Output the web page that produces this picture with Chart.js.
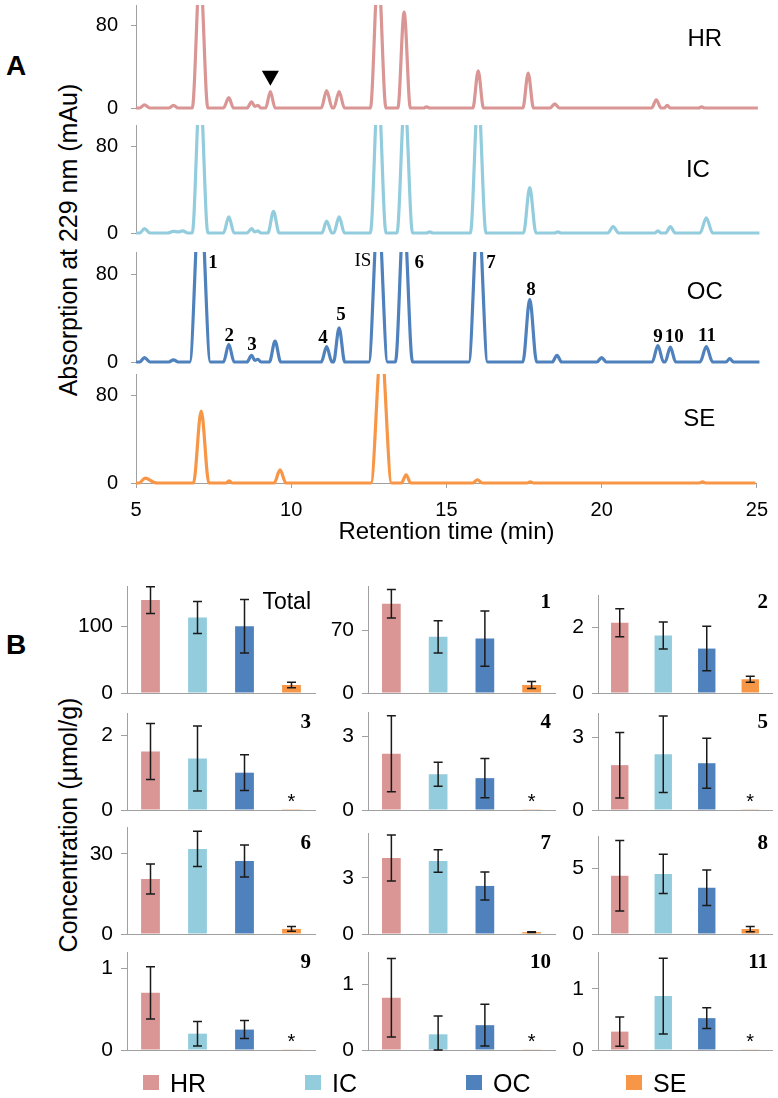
<!DOCTYPE html>
<html>
<head>
<meta charset="utf-8">
<script src="https://cdn.jsdelivr.net/npm/chart.js@4.4.1/dist/chart.umd.min.js"></script>
<style>
  body { margin: 0; background: #fff; width: 778px; height: 1098px; position: relative; overflow: hidden;
         font-family: "Liberation Sans", Arial, sans-serif; color: #000; }
  canvas { position: absolute; }
  .vtitle { position: absolute; white-space: nowrap; font-size: 25px; transform: translate(-50%, -50%) rotate(-90deg); }
  .panel { position: absolute; font-weight: bold; font-size: 28px; transform: translate(-50%, -50%); }
  .key { position: absolute; width: 16px; height: 15px; }
  .keytxt { position: absolute; font-size: 25px; transform: translateY(-50%); }
</style>
</head>
<body>
<div class="panel" style="left:16px;top:66px">A</div>
<div class="panel" style="left:16px;top:645px">B</div>
<div class="vtitle" style="left:68px;top:240px">Absorption at 229 nm (mAu)</div>
<div class="vtitle" style="left:68px;top:825px">Concentration (µmol/g)</div>

<script>
// ---------- panel A: chromatograms, [retention time (min), absorbance (mAu)] ----------
const retentionTicks = [5, 10, 15, 20, 25];
const absorbTicks = [0, 80];

const traceHR = [
  [5.0, 0], [5.12, 0], [5.27, 3], [5.45, 0], [6.05, 0], [6.2, 2.5], [6.35, 0],
  [6.8, 0], [7.05, 135], [7.3, 0], [7.8, 0], [7.97, 10], [8.12, 0],
  [8.55, 0], [8.7, 6], [8.8, 1.5], [8.9, 2.5], [9.0, 0], [9.15, 0], [9.3, 16], [9.45, 0],
  [10.93, 0], [11.1, 17], [11.28, 0], [11.33, 0], [11.5, 16], [11.67, 0],
  [12.5, 0], [12.75, 135], [13.0, 0], [13.38, 0], [13.58, 93], [13.78, 0],
  [14.2, 0], [14.3, 1], [14.4, 0], [15.78, 0], [15.95, 36], [16.12, 0],
  [17.38, 0], [17.55, 34], [17.72, 0], [18.25, 0], [18.4, 4], [18.55, 0],
  [21.5, 0], [21.65, 8], [21.8, 0], [21.9, 0], [22.0, 2.5], [22.1, 0],
  [23.0, 0], [23.1, 1], [23.2, 0], [24.9, 0]
];
const traceIC = [
  [5.0, 0], [5.12, 0], [5.27, 4], [5.45, 0], [6.0, 0], [6.2, 1.5], [6.35, 1], [6.5, 2], [6.65, 0],
  [6.8, 0], [7.05, 135], [7.3, 0], [7.8, 0], [7.97, 15], [8.14, 0],
  [8.55, 0], [8.7, 4], [8.8, 1], [8.9, 2], [9.0, 0], [9.22, 0], [9.4, 20], [9.58, 0],
  [10.95, 0], [11.1, 11], [11.27, 0], [11.33, 0], [11.5, 15], [11.67, 0],
  [12.5, 0], [12.75, 135], [13.0, 0], [13.35, 0], [13.6, 125], [13.85, 0],
  [14.3, 0], [14.4, 1], [14.5, 0], [15.7, 0], [15.95, 128], [16.2, 0],
  [17.4, 0], [17.6, 42], [17.8, 0], [18.4, 0], [18.5, 1], [18.6, 0],
  [20.1, 0], [20.27, 6], [20.44, 0], [21.6, 0], [21.7, 2], [21.8, 0], [21.95, 0], [22.1, 6], [22.25, 0],
  [23.05, 0], [23.25, 14], [23.45, 0], [24.95, 0]
];
const traceOC = [
  [5.0, 0], [5.12, 0], [5.27, 4], [5.45, 0], [6.05, 0], [6.2, 2], [6.35, 0],
  [6.72, 0], [7.05, 160], [7.38, 0], [7.8, 0], [7.97, 16], [8.14, 0],
  [8.55, 0], [8.7, 6], [8.8, 1.5], [8.9, 2.5], [9.0, 0], [9.27, 0], [9.45, 19], [9.63, 0],
  [10.93, 0], [11.1, 14], [11.27, 0], [11.32, 0], [11.5, 31], [11.68, 0],
  [12.45, 0], [12.75, 140], [13.05, 0], [13.3, 0], [13.57, 135], [13.85, 0],
  [15.65, 0], [15.95, 140], [16.25, 0], [17.38, 0], [17.6, 57], [17.82, 0],
  [18.32, 0], [18.47, 6], [18.62, 0], [19.75, 0], [19.9, 4], [20.05, 0],
  [21.52, 0], [21.7, 15], [21.88, 0], [21.93, 0], [22.1, 13.5], [22.27, 0],
  [23.05, 0], [23.25, 14], [23.45, 0], [23.88, 0], [24.0, 3], [24.12, 0], [24.95, 0]
];
const traceSE = [
  [5.0, 0], [5.1, 0], [5.3, 4.5], [5.55, 1], [5.7, 0],
  [6.85, 0], [7.1, 66], [7.35, 0], [7.9, 0], [8.0, 2], [8.1, 0],
  [9.45, 0], [9.64, 12], [9.83, 0], [12.57, 0], [12.9, 125], [13.23, 0],
  [13.55, 0], [13.7, 7.5], [13.85, 0], [15.85, 0], [16.0, 3], [16.15, 0],
  [17.6, 0], [17.7, 1], [17.8, 0], [23.15, 0], [23.25, 1], [23.35, 0], [24.95, 0]
];

const peakNames = ['1', '2', '3', '4', '5', 'IS', '6', '7', '8', '9', '10', '11'];
const peakTimes = [7.46, 7.98, 8.71, 10.98, 11.56, 12.26, 14.06, 16.36, 17.64, 21.7, 22.22, 23.27];
const peakLevels = [90, 23.6, 15.5, 21.8, 42.7, 92, 90, 90, 65, 22.7, 22.7, 23.6];

// ---------- panel B: concentrations (µmol/g), mean and error ----------
const groups = ['HR', 'IC', 'OC', 'SE'];
const compounds = ['Total', '1', '2', '3', '4', '5', '6', '7', '8', '9', '10', '11'];
const meanHR = [139, 100, 2.15, 1.57, 2.3, 1.85, 20.6, 4.06, 4.46, 0.7, 0.8, 0.3];
const errHR  = [20, 16, 0.43, 0.75, 1.55, 1.35, 5.6, 1.23, 2.7, 0.32, 0.6, 0.24];
const meanIC = [113, 63, 1.76, 1.38, 1.46, 2.3, 31.8, 3.9, 4.6, 0.2, 0.24, 0.88];
const errIC  = [24, 18, 0.41, 0.87, 0.49, 1.58, 6.6, 0.6, 1.5, 0.15, 0.28, 0.62];
const meanOC = [100, 61, 1.36, 1.0, 1.3, 1.93, 27.3, 2.57, 3.54, 0.25, 0.38, 0.52];
const errOC  = [40, 31, 0.68, 0.48, 0.8, 1.03, 6, 0.75, 1.35, 0.11, 0.32, 0.17];
const meanSE = [12, 9, 0.42, 0.005, 0.01, 0.01, 1.9, 0.1, 0.38, 0.004, 0.005, 0.005];
const errSE  = [4, 4, 0.09, 0, 0, 0, 0.9, 0.02, 0.2, 0, 0, 0];
const seMark = ['', '', '', '*', '*', '*', '', '', '', '*', '*', '*'];
const concMax = [160, 120, 3, 2.6, 4, 4, 40, 5.4, 7.5, 1.2, 1.5, 1.6];
const concTicks = [[0, 100], [0, 70], [0, 2], [0, 2], [0, 3], [0, 3], [0, 30], [0, 3], [0, 5], [0, 1], [0, 1], [0, 1]];

const colors = { HR: '#d99694', IC: '#93cddd', OC: '#4f81bd', SE: '#f79646' };
const axisGrey = '#a0a0a0';

Chart.defaults.font.family = '"Liberation Sans", Arial, sans-serif';
Chart.defaults.color = '#000';

function addCanvas(left, top, w, h) {
  const c = document.createElement('canvas');
  c.width = w; c.height = h;
  c.style.left = left + 'px'; c.style.top = top + 'px';
  c.style.width = w + 'px'; c.style.height = h + 'px';
  document.body.appendChild(c);
  return c;
}

// notes drawn in data coordinates: series name, peak numbers, arrowhead
const chromNotes = {
  id: 'chromNotes',
  afterDraw(chart, args, opts) {
    const { ctx, scales: { x, y } } = chart;
    ctx.save();
    ctx.textAlign = 'center';
    ctx.textBaseline = 'middle';
    ctx.fillStyle = '#000';
    ctx.font = '24px "Liberation Sans", Arial, sans-serif';
    ctx.fillText(opts.name, x.getPixelForValue(opts.nameAt[0]), y.getPixelForValue(opts.nameAt[1]));
    if (opts.peaks) {
      peakNames.forEach((p, k) => {
        ctx.font = (p === 'IS' ? '' : 'bold ') + '19px "Liberation Serif", "Times New Roman", serif';
        ctx.fillText(p, x.getPixelForValue(peakTimes[k]), y.getPixelForValue(peakLevels[k]));
      });
    }
    if (opts.arrow) {
      const ax = x.getPixelForValue(opts.arrow[0]), ay = y.getPixelForValue(opts.arrow[1]);
      ctx.beginPath();
      ctx.moveTo(ax - 8.5, ay - 7.5);
      ctx.lineTo(ax + 8.5, ay - 7.5);
      ctx.lineTo(ax, ay + 7.5);
      ctx.closePath();
      ctx.fill();
    }
    ctx.restore();
  }
};

function chromatogram(trace, color, area, notes, showX) {
  const pad = 32, xH = 64;
  const h = area[1] - area[0] + pad + (showX ? xH : pad);
  const canvas = addCanvas(0, area[0] - pad, 778, h);
  new Chart(canvas, {
    type: 'line',
    data: {
      datasets: [{
        data: trace.map(p => ({ x: p[0], y: p[1] })),
        borderColor: color,
        borderWidth: 3.2,
        pointRadius: 0,
        cubicInterpolationMode: 'monotone',
        clip: { left: 0, right: 0, top: 0, bottom: 6 }
      }]
    },
    options: {
      responsive: false,
      animation: false,
      events: [],
      layout: { padding: { left: 0, right: 17, top: pad, bottom: showX ? 0 : pad } },
      plugins: { legend: { display: false }, tooltip: { enabled: false }, chromNotes: notes },
      scales: {
        x: {
          type: 'linear', min: 5, max: 25,
          display: showX,
          afterFit: s => { s.height = showX ? xH : 0; },
          afterBuildTicks: s => { s.ticks = retentionTicks.map(v => ({ value: v })); },
          ticks: { font: { size: 20 }, padding: 10, maxRotation: 0 },
          grid: { drawOnChartArea: false, tickLength: 5, color: axisGrey },
          border: { color: axisGrey },
          title: { display: true, text: 'Retention time (min)', font: { size: 24 }, padding: 0 }
        },
        y: {
          min: 0, max: 100,
          afterFit: s => { s.width = 136; },
          afterBuildTicks: s => { s.ticks = absorbTicks.map(v => ({ value: v })); },
          ticks: { font: { size: 20 }, padding: 13 },
          grid: { drawOnChartArea: false, tickLength: 5, color: axisGrey },
          border: { color: axisGrey }
        }
      }
    },
    plugins: [chromNotes]
  });
}

chromatogram(traceHR, colors.HR, [5, 108], { name: 'HR', nameAt: [23.2, 67], arrow: [9.3, 29] }, false);
chromatogram(traceIC, colors.IC, [125, 233], { name: 'IC', nameAt: [22.98, 58] }, false);
chromatogram(traceOC, colors.OC, [252, 362], { name: 'OC', nameAt: [23.2, 63], peaks: true }, false);
chromatogram(traceSE, colors.SE, [374, 483], { name: 'SE', nameAt: [23.14, 58] }, true);

// ---------- panel B ----------
const errorBars = {
  id: 'errorBars',
  afterDatasetsDraw(chart, args, opts) {
    const { ctx, scales: { y } } = chart;
    const meta = chart.getDatasetMeta(0);
    const values = chart.data.datasets[0].data;
    ctx.save();
    ctx.strokeStyle = '#1a1a1a';
    ctx.lineWidth = 1.5;
    meta.data.forEach((bar, k) => {
      const e = opts.errors[k];
      if (!e) return;
      const top = y.getPixelForValue(values[k] + e);
      const bot = y.getPixelForValue(Math.max(values[k] - e, 0));
      ctx.beginPath();
      ctx.moveTo(bar.x, top); ctx.lineTo(bar.x, bot);
      ctx.moveTo(bar.x - 4.5, top); ctx.lineTo(bar.x + 4.5, top);
      ctx.moveTo(bar.x - 4.5, bot); ctx.lineTo(bar.x + 4.5, bot);
      ctx.stroke();
    });
    ctx.restore();
  }
};

const panelNotes = {
  id: 'panelNotes',
  afterDraw(chart, args, opts) {
    const { ctx, chartArea } = chart;
    ctx.save();
    ctx.fillStyle = '#000';
    ctx.textBaseline = 'middle';
    ctx.textAlign = 'right';
    ctx.font = opts.title === 'Total'
      ? '23px "Liberation Sans", Arial, sans-serif'
      : 'bold 21px "Liberation Serif", "Times New Roman", serif';
    ctx.fillText(opts.title, chartArea.right - 4, opts.titleY);
    if (opts.mark) {
      const bar = chart.getDatasetMeta(0).data[3];
      ctx.textAlign = 'center';
      ctx.font = '20px "Liberation Sans", Arial, sans-serif';
      ctx.fillText(opts.mark, bar.x, chartArea.bottom - 8);
    }
    ctx.restore();
  }
};

const colAxis = [127, 368, 598];
const colRight = [315, 555, 772];
const rowBottom = [693, 810, 934, 1050];
const rowTitleY = [603, 723, 844, 963];
const panelTop = [586, 586, 595, 713, 712, 713, 827, 833, 836, 952, 952, 952];

compounds.forEach((name, i) => {
  const col = i % 3, row = Math.floor(i / 3);
  const pad = 32, yW = 60;
  const left = colAxis[col] - yW;
  const top = panelTop[i] - pad;
  const w = colRight[col] + 6 - left;
  const h = rowBottom[row] - panelTop[i] + 2 * pad;
  const canvas = addCanvas(left, top, w, h);
  new Chart(canvas, {
    type: 'bar',
    data: {
      labels: groups,
      datasets: [{
        data: [meanHR[i], meanIC[i], meanOC[i], meanSE[i]],
        backgroundColor: groups.map(g => colors[g]),
        barPercentage: 0.8,
        categoryPercentage: 0.5
      }]
    },
    options: {
      responsive: false,
      animation: false,
      events: [],
      layout: { padding: { left: 0, right: 6, top: pad, bottom: pad } },
      plugins: {
        legend: { display: false },
        tooltip: { enabled: false },
        errorBars: { errors: [errHR[i], errIC[i], errOC[i], errSE[i]] },
        panelNotes: { title: name, titleY: rowTitleY[row] - top, mark: seMark[i] }
      },
      scales: {
        x: {
          afterFit: s => { s.height = 0; },
          ticks: { display: false },
          grid: { display: false },
          border: { color: axisGrey }
        },
        y: {
          min: 0, max: concMax[i],
          afterFit: s => { s.width = yW; },
          afterBuildTicks: s => { s.ticks = concTicks[i].map(v => ({ value: v })); },
          ticks: { font: { size: 21 }, padding: 8 },
          grid: { drawOnChartArea: false, tickLength: 6, color: axisGrey },
          border: { color: axisGrey }
        }
      }
    },
    plugins: [errorBars, panelNotes]
  });
});

// legend row
const keyX = [143, 305, 466, 626];
groups.forEach((g, k) => {
  const sq = document.createElement('div');
  sq.className = 'key';
  sq.style.left = keyX[k] + 'px'; sq.style.top = '1075px'; sq.style.background = colors[g];
  document.body.appendChild(sq);
  const t = document.createElement('div');
  t.className = 'keytxt';
  t.style.left = (keyX[k] + 27) + 'px'; t.style.top = '1083px';
  t.textContent = g;
  document.body.appendChild(t);
});
</script>
</body>
</html>
